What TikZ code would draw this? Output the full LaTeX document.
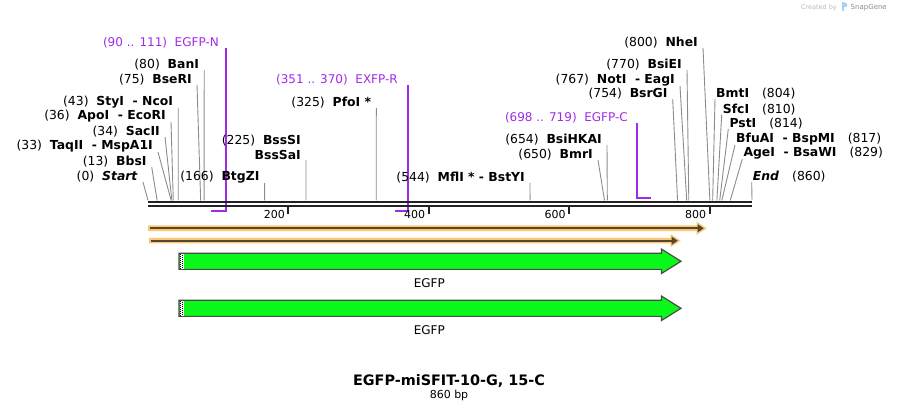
\documentclass[tikz,border=0pt]{standalone}
\usepackage{fontspec}
\setmainfont{DejaVu Sans}

\definecolor{primercol}{HTML}{9F2BE8}
\definecolor{featgreen}{HTML}{0AF91A}
\definecolor{featedge}{HTML}{4A4A4A}
\definecolor{featorange}{HTML}{FBC774}
\definecolor{featdark}{HTML}{57462E}
\definecolor{cutgray}{HTML}{8C8C8C}
\definecolor{bbcol}{HTML}{222222}
\definecolor{logoblue}{HTML}{A9D2F2}

\tikzset{
  enzl/.style={anchor=south east, inner xsep=5pt, inner ysep=0pt, font=\fontsize{12.4}{15}\selectfont},
  enzr/.style={anchor=south west, inner xsep=1pt, inner ysep=0pt, font=\fontsize{12.4}{15}\selectfont},
  cutline/.style={draw=cutgray, line width=0.9pt},
  primerlab/.style={anchor=south east, inner ysep=0pt, text=primercol, font=\fontsize{12}{15}\selectfont},
  primer/.style={draw=primercol, line width=2pt},
  ticklab/.style={anchor=east, inner sep=0pt, font=\fontsize{11}{13}\selectfont},
  featlab/.style={anchor=base, inner sep=0pt, font=\fontsize{12}{14}\selectfont},
}

\begin{document}
\begin{tikzpicture}[x=1pt,y=-1pt]
    \useasboundingbox (0,0) rectangle (900,411);

    % primers
    \node[primerlab, inner xsep=7pt] (pN) at (226,48) {(90 .. 111)~~EGFP-N};
    \coordinate (pNe) at (211.2,211);
    \draw[primer] (pN.south east) |- (pNe);
    \node[primerlab, inner xsep=10pt] (pR) at (408,85.5) {(351 .. 370)~~EXFP-R};
    \coordinate (pRe) at (394.5,211);
    \draw[primer] (pR.south east) |- (pRe);
    \node[primerlab, inner xsep=8.7pt] (pC) at (636.7,123.3) {(698 .. 719)~~EGFP-C};
    \coordinate (pCe) at (651,198);
    \draw[primer] (pC.south east) |- (pCe);

    % backbone
    \draw[bbcol, line width=2.6pt] (148,202) -- (752,202);
    \draw[bbcol, line width=2pt] (148,206.3) -- (752,206.3);
    \foreach \t in {200,400,600,800}{
        \draw[bbcol, line width=2pt] ({148+0.70233*\t},207.5) -- ({148+0.70233*\t},214.5);
        \node[ticklab] (t\t) at ({144.5+0.70233*\t},214.5) {\t};
    }

    % sites, labels to the left
    \foreach \bp/\tx/\ty/\txt in {
        0/143/182/{(0)~~\textbf{\textit{Start}}},
        13/151.7/167/{(13)~~\textbf{BbsI}},
        33/158/152/{(33)~~\textbf{TaqII~~- MspA1I}},
        34/165/137/{(34)~~\textbf{SacII}},
        36/171/122/{(36)~~\textbf{ApoI~~- EcoRI}},
        43/178.2/108/{(43)~~\textbf{StyI~~- NcoI}},
        75/197/85/{(75)~~\textbf{BseRI}},
        80/204.2/70/{(80)~~\textbf{BanI}},
        166/264.6/183/{(166)~~\textbf{BtgZI}},
        325/376.3/108/{(325)~~\textbf{PfoI *}},
        544/530/183/{(544)~~\textbf{MflI * - BstYI}},
        650/598/160/{(650)~~\textbf{BmrI}},
        654/607/145/{(654)~~\textbf{BsiHKAI}},
        754/672.7/99/{(754)~~\textbf{BsrGI}},
        767/680/86/{(767)~~\textbf{NotI~~- EagI}},
        770/687/70/{(770)~~\textbf{BsiEI}},
        800/703/48/{(800)~~\textbf{NheI}}}{
        \coordinate (s\bp) at ({148+0.70233*\bp},200.5);
        \node[enzl] (e\bp) at (\tx,\ty) {\txt};
        \draw[cutline] (s\bp) -- (e\bp.south east);
    }
    \coordinate (s225) at ({148+0.70233*225},200.5);
    \node[enzl, align=right] (e225) at (306,160) {(225)~~\textbf{BssSI}\\\textbf{BssSaI}};
    \draw[cutline] (s225) -- (e225.south east);

    % sites, labels to the right
    \foreach \bp/\tx/\ty/\txt in {
        804/715/99/{\textbf{BmtI}\hspace{13pt}(804)},
        810/721.7/115/{\textbf{SfcI}\hspace{13pt}(810)},
        814/728.3/129/{\textbf{PstI}\hspace{13pt}(814)},
        817/735/145/{\textbf{BfuAI~~- BspMI}\hspace{13pt}(817)},
        829/742.3/159/{\textbf{AgeI~~- BsaWI}\hspace{13pt}(829)},
        860/751.7/182/{\textbf{\textit{End}}\hspace{13pt}(860)}}{
        \coordinate (s\bp) at ({148+0.70233*\bp},200.5);
        \node[enzr] (e\bp) at (\tx,\ty) {\txt};
        \draw[cutline] (s\bp) -- (e\bp.south west);
    }

    % orange features
    \foreach \c/\tip/\st in {228.3/706.7/148, 240.7/680.7/149}{
        \fill[featorange] (\st,{\c-2.8}) -- ({\tip-10},{\c-2.8}) -- ({\tip-10},{\c-6.5})
            -- (\tip,\c) -- ({\tip-10},{\c+6.5}) -- ({\tip-10},{\c+2.8}) -- (\st,{\c+2.8}) -- cycle;
        \draw[featdark, line width=2pt] ({\st+1.5},\c) -- ({\tip-8},\c);
        \fill[featdark] ({\tip-9},{\c-4}) -- ({\tip-3},\c) -- ({\tip-9},{\c+4}) -- cycle;
    }

    % EGFP arrows
    \foreach \c [count=\i] in {261.3,308.3}{
        \draw[draw=featedge, fill=featgreen, line width=1.2pt] (179,{\c-8.1}) -- (661.5,{\c-8.1})
            -- (661.5,{\c-12.2}) -- (681,\c) -- (661.5,{\c+12.2}) -- (661.5,{\c+8.1})
            -- (179,{\c+8.1}) -- cycle;
        \fill[white] (179.7,{\c-7.4}) rectangle (184,{\c+7.4});
        \draw[line width=1pt, dash pattern=on 1pt off 1pt] (180.7,{\c-7.4}) -- (180.7,{\c+7.4});
        \draw[line width=1pt, dash pattern=on 1pt off 1pt, dash phase=1pt] (182.7,{\c-7.4}) -- (182.7,{\c+7.4});
        \node[featlab] (egfp\i) at (429.3,{\c+26.4}) {EGFP};
    }

    % title
    \node[anchor=base, inner sep=0pt, font=\fontsize{14.4}{16}\selectfont\bfseries] (title) at (449,386) {EGFP-miSFIT-10-G, 15-C};
    \node[anchor=base, inner sep=0pt, font=\fontsize{11}{13}\selectfont] (size) at (449,399) {860 bp};

    % watermark
    \node[anchor=base east, inner sep=0pt, text=black!28, font=\fontsize{6.5}{8}\selectfont] (made) at (837,9.3) {Created by};
    \fill[logoblue] (841.5,2.5) rectangle (844,11.5);
    \fill[logoblue] (844,2.5) -- (847,3.5) -- (847,6.5) -- (844,7.5) -- cycle;
    \node[anchor=base west, inner sep=0pt, text=black!45, font=\fontsize{7}{8}\selectfont] (sg) at (850.5,9.3) {SnapGene};
\end{tikzpicture}
\end{document}
